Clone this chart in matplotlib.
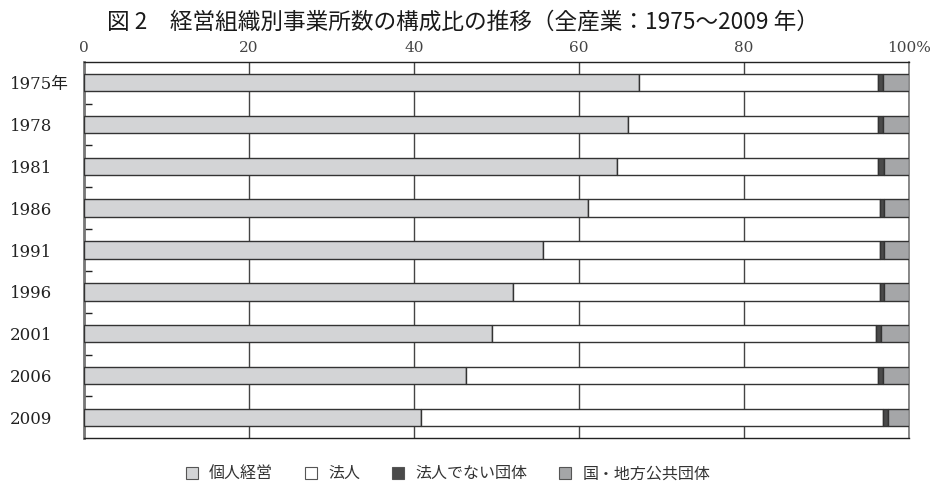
import matplotlib
matplotlib.use("Agg")
import matplotlib.pyplot as plt
from matplotlib.patches import Patch
import numpy as np

plt.rcParams['font.family'] = ['DejaVu Serif', 'Noto Sans CJK JP', 'DejaVu Sans']

# data (構成比, %)
years = ["1975年", "1978", "1981", "1986", "1991", "1996", "2001", "2006", "2009"]
kojin = [67.3, 65.9, 64.6, 61.1, 55.6, 52.0, 49.5, 46.3, 40.8]
hojin = [29.0, 30.4, 31.7, 35.4, 40.9, 44.5, 46.5, 50.0, 56.0]
hojin_denai = [0.5, 0.5, 0.7, 0.5, 0.5, 0.5, 0.6, 0.55, 0.7]
kokyo = [3.2, 3.2, 3.0, 3.0, 3.0, 3.0, 3.4, 3.15, 2.5]
series_names = ["個人経営", "法人", "法人でない団体", "国・地方公共団体"]
colors = ["#d3d4d6", "#ffffff", "#4a4a4a", "#a5a6a8"]

fig = plt.figure(figsize=(9.33, 4.87), dpi=100)
ax = fig.add_axes([0.0900, 0.1000, 0.8842, 0.7733])

y = np.arange(len(years))
left = np.zeros(len(years))
for vals, c in zip([kojin, hojin, hojin_denai, kokyo], colors):
    ax.barh(y, vals, left=left, height=0.416, color=c, edgecolor="#333333",
            linewidth=1.0, zorder=3)
    left += np.array(vals)

ax.set_xlim(0, 100)
ax.set_ylim(len(years) - 0.5, -0.5)

# x axis on top
ax.xaxis.tick_top()
ax.set_xticks([0, 20, 40, 60, 80, 100])
ax.set_xticklabels(["0", "20", "40", "60", "80", "100%"], fontsize=11, color="#444444")
ax.tick_params(axis="x", length=0, pad=5)
ax.grid(axis="x", color="#444444", linewidth=1.0, zorder=0)

# year labels, left aligned
ax.set_yticks(y)
ax.set_yticklabels(years, fontsize=12, ha="left", color="#222222")
ax.tick_params(axis="y", which="major", length=0, pad=53.3)
ax.set_yticks(np.arange(0.5, len(years) - 1, 1.0), minor=True)
ax.tick_params(axis="y", which="minor", direction="in", length=5.8, width=1.0, color="#222222")

for side in ["top", "bottom"]:
    ax.spines[side].set_color("#222222")
    ax.spines[side].set_linewidth(1.0)
ax.spines["right"].set_color("#777777")
ax.spines["right"].set_linewidth(1.2)
ax.spines["left"].set_color("#777777")
ax.spines["left"].set_linewidth(2.0)

fig.text(0.496, 0.9554, "図 2　経営組織別事業所数の構成比の推移（全産業：1975～2009 年）",
         ha="center", va="center", fontsize=16.3, color="#1a1a1a",
         family=["Noto Sans CJK JP", "DejaVu Sans"])

handles = [Patch(facecolor=c, edgecolor="#555555", linewidth=0.8) for c in colors]
leg = fig.legend(handles, series_names, loc="center", bbox_to_anchor=(0.48, 0.027),
                 ncol=4, frameon=False, handlelength=0.75, handleheight=0.75,
                 handletextpad=0.7, columnspacing=2.0,
                 prop={"family": ["Noto Sans CJK JP", "DejaVu Sans"], "size": 11.5})
for t in leg.get_texts():
    t.set_color("#333333")

fig.savefig("out.png", dpi=100)
